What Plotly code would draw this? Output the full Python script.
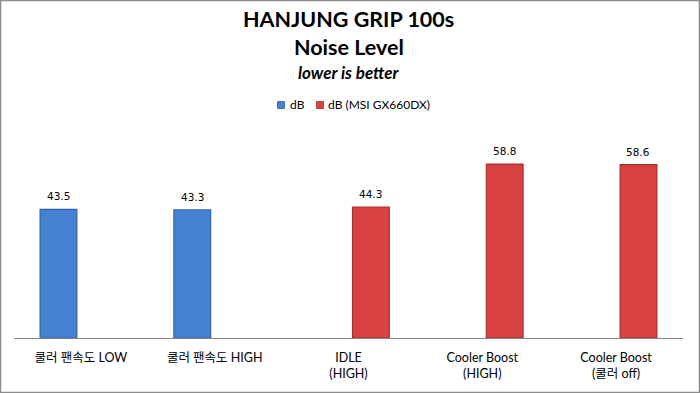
import plotly.graph_objects as go

categories = ["쿨러 팬속도 LOW", "쿨러 팬속도 HIGH", "IDLE<br>(HIGH)", "Cooler Boost<br>(HIGH)", "Cooler Boost<br>(쿨러 off)"]
series_db = [43.5, 43.3, None, None, None]
series_msi = [None, None, 44.3, 58.8, 58.6]
series_names = ["dB", "dB (MSI GX660DX)"]
series_colors = ["#4680D2", "#D84242"]
series_edges = ["#2F62A6", "#A82E2E"]
title_lines = ["HANJUNG GRIP 100s", "Noise Level", "lower is better"]

W, H = 700, 393
ml, mr, mt, mb = 14, 17, 131, 55
pw, ph = W - ml - mr, H - mt - mb

def py(pix):
    return 1 + (mt - pix) / ph

def px(pix):
    return (pix - ml) / pw

fig = go.Figure()
all_series = [series_db, series_msi]
for i, vals in enumerate(all_series):
    fig.add_trace(go.Bar(
        x=categories, y=vals, name=series_names[i],
        marker=dict(color=series_colors[i], line=dict(color=series_edges[i], width=1.2)),
        showlegend=False,
    ))
    shift = -22 if i == 0 else 22
    for c, v in zip(categories, vals):
        if v is None:
            continue
        fig.add_annotation(x=c, y=v, xref="x", yref="y", xshift=shift, yshift=13,
                           text=f"{v:.1f}", showarrow=False, yanchor="middle",
                           font=dict(family="DejaVu Sans", size=10.5, color="#000000"))

# titles
title_specs = [(title_lines[0], 19, 21.5, "<b>{}</b>"),
               (title_lines[1], 47, 21.5, "<b>{}</b>"),
               (title_lines[2], 72, 17, "<b><i>{}</i></b>")]
for txt, ypix, size, fmt in title_specs:
    fig.add_annotation(x=0.5, xref="paper", yref="paper", y=py(ypix), showarrow=False,
                       xanchor="center", yanchor="middle", text=fmt.format(txt),
                       font=dict(family="Lato", color="#000000", size=size))

# custom compact legend
legend_items = [(281, 288), (320, 326)]
for i, (sx, tx) in enumerate(legend_items):
    fig.add_shape(type="rect", xref="paper", yref="paper",
                  x0=px(sx - 3.5), x1=px(sx + 3.5), y0=py(105 + 3.5), y1=py(105 - 3.5),
                  fillcolor=series_colors[i], line=dict(color=series_edges[i], width=0.8))
    fig.add_annotation(x=px(tx), y=py(105), xref="paper", yref="paper", showarrow=False,
                       xanchor="left", yanchor="middle", text=series_names[i],
                       font=dict(family="Lato", size=12, color="#000000"))

fig.add_shape(type="rect", xref="paper", yref="paper",
              x0=px(0.5), x1=px(W - 0.5), y0=py(H - 0.5), y1=py(0.5),
              line=dict(color="#8C8C8C", width=1.5), layer="above")

fig.update_layout(
    width=W, height=H,
    margin=dict(l=ml, r=mr, t=mt, b=mb),
    paper_bgcolor="white", plot_bgcolor="white",
    barmode="group", bargap=0.33, bargroupgap=0.18,
    showlegend=False,
    xaxis=dict(showline=True, linecolor="#868686", linewidth=1, ticks="",
               ticklabelstandoff=8,
               tickfont=dict(family="Lato, Noto Sans CJK KR", size=12.5, color="#000000"),
               showgrid=False, fixedrange=True),
    yaxis=dict(visible=False, range=[0, 70], showgrid=False, fixedrange=True),
    font=dict(family="Lato, Noto Sans CJK KR"),
)

fig.write_html("out.html")
